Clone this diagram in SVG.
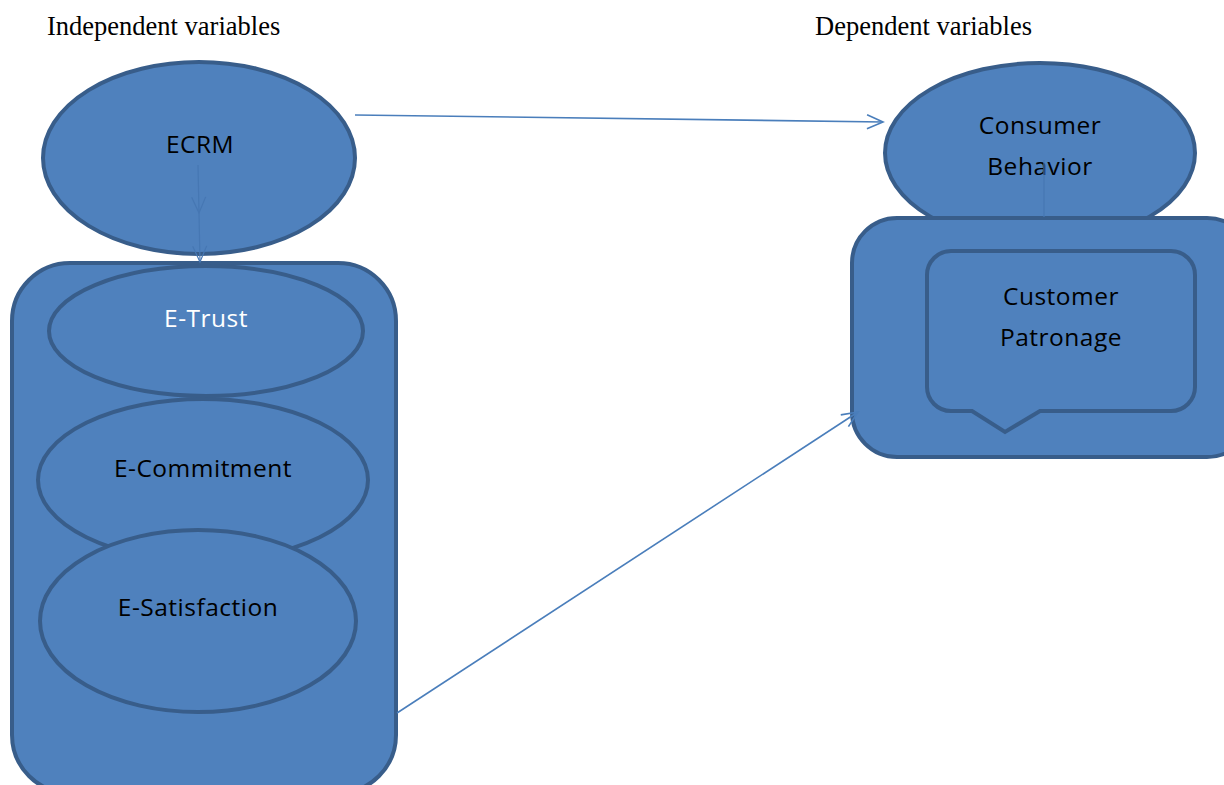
<svg xmlns="http://www.w3.org/2000/svg" width="1224" height="785" viewBox="0 0 1224 785">
<defs>
<style>
.shape{fill:#4f81bd;stroke:#385d8a;stroke-width:4}
.lbl{font-family:"Open Sans","Liberation Sans",sans-serif;font-size:24.5px;letter-spacing:0.5px;fill:#000;text-anchor:middle}
.ttl{font-family:"Liberation Serif",serif;font-size:26.5px;fill:#000}
.conn{stroke:#4a7ebb;stroke-width:1.6;fill:none}
.faint{stroke:#4677b3;stroke-width:1.2;fill:none}
</style>
<marker id="open" markerWidth="20" markerHeight="16" refX="18" refY="8" orient="auto" markerUnits="userSpaceOnUse">
<path d="M2,1 L18,8 L2,15" fill="none" stroke="#4a7ebb" stroke-width="1.6"/>
</marker>
<marker id="openf" markerWidth="20" markerHeight="16" refX="18" refY="8" orient="auto" markerUnits="userSpaceOnUse">
<path d="M2,1 L18,8 L2,15" fill="none" stroke="#4677b3" stroke-width="1.2"/>
</marker>
</defs>
<rect width="1224" height="785" fill="#fff"/>
<text class="ttl" x="47" y="35">Independent variables</text>
<text class="ttl" x="815" y="35">Dependent variables</text>

<g id="ecrm">
<ellipse class="shape" cx="199" cy="158" rx="156" ry="96"/>
<text class="lbl" x="200" y="153">ECRM</text>
</g>

<g id="independent-group">
<rect class="shape" x="12" y="263" width="384" height="530" rx="58"/>
</g>
<g id="e-trust">
<ellipse class="shape" cx="206" cy="331" rx="157" ry="65"/>
<text class="lbl" x="206" y="327" style="fill:#fff">E-Trust</text>
</g>
<g id="e-commitment">
<ellipse class="shape" cx="203" cy="480" rx="165" ry="81"/>
<text class="lbl" x="203" y="477">E-Commitment</text>
</g>
<g id="e-satisfaction">
<ellipse class="shape" cx="198" cy="621" rx="158" ry="91"/>
<text class="lbl" x="198" y="616">E-Satisfaction</text>
</g>

<g id="consumer-behavior">
<ellipse class="shape" cx="1040" cy="153" rx="155" ry="90"/>
<text class="lbl" x="1040" y="134">Consumer</text>
</g>
<g id="dependent-group">
<rect class="shape" x="852" y="218" width="400" height="239" rx="45"/>
</g>
<g id="customer-patronage">
<path class="shape" d="M951,251 H1171 A24,24 0 0 1 1195,275 V387 A24,24 0 0 1 1171,411 H1040 L1005,432 L972,411 H951 A24,24 0 0 1 927,387 V275 A24,24 0 0 1 951,251 Z"/>
<text class="lbl" x="1061" y="305">Customer</text>
<text class="lbl" x="1061" y="346">Patronage</text>
</g>
<g id="behavior-label">
<text class="lbl" x="1040" y="175">Behavior</text>
</g>

<g id="connectors">
<line class="conn" x1="355" y1="115" x2="883" y2="122" marker-end="url(#open)"/>
<line class="conn" x1="397" y1="713" x2="858" y2="412" marker-end="url(#open)"/>
<line class="faint" x1="198" y1="165" x2="199" y2="213" marker-end="url(#openf)"/>
<line class="faint" x1="199" y1="213" x2="200" y2="262" marker-end="url(#openf)"/>
<line class="faint" x1="1044" y1="160" x2="1044" y2="217"/>
</g>
</svg>
